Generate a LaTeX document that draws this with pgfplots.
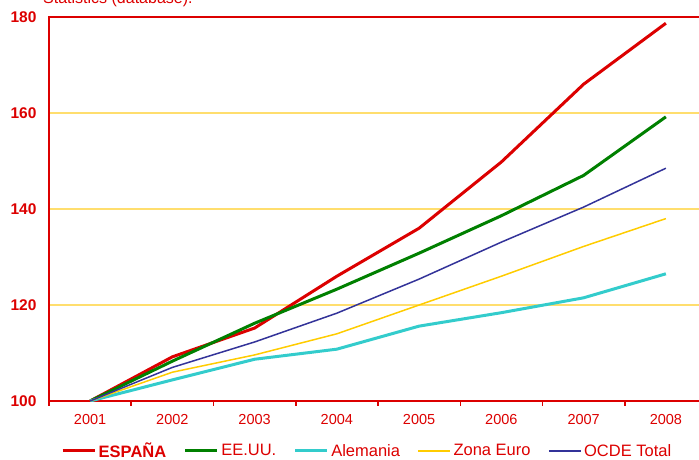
\documentclass[border=0pt]{standalone}
\usepackage{pgfplots}
\pgfplotsset{compat=1.18}
\usepackage{fontspec}
\setmainfont{Liberation Sans}
\definecolor{cred}{RGB}{220,0,0}
\definecolor{cgreen}{RGB}{0,128,0}
\definecolor{ccyan}{RGB}{51,204,204}
\definecolor{cyellow}{RGB}{255,204,0}
\definecolor{cnavy}{RGB}{51,51,153}
\definecolor{cgrid}{RGB}{255,222,110}
\begin{document}
\begin{tikzpicture}
\begin{axis}[
  at={(0pt,0pt)}, anchor=south west,
  scale only axis, width=658pt, height=384pt,
  xmin=2000.5, xmax=2008.5, ymin=100, ymax=180,
  xtick={2001,2002,2003,2004,2005,2006,2007,2008},
  xticklabels={2001,2002,2003,2004,2005,2006,2007,2008},
  minor xtick={2000.5,2001.5,2002.5,2003.5,2004.5,2005.5,2006.5,2007.5,2008.5},
  ytick={100,120,140,160,180},
  ymajorgrids, grid style={cgrid, line width=1.2pt},
  major tick length=0pt, minor tick length=4.5pt, tick align=outside,
  xtick pos=bottom, ytick pos=left,
  tick style={cred, line width=1.5pt},
  axis line style={cred, line width=2pt},
  xticklabel style={font=\fontsize{14.5}{16}\selectfont, text=cred, yshift=-10pt},
  yticklabel style={font=\fontsize{15.5}{17}\selectfont\bfseries, text=cred, xshift=-9pt},
  /pgf/number format/assume math mode=true,
  legend columns=5,
  legend style={at={(0.484,-0.130)}, anchor=center, draw=none, fill=none,
    font=\fontsize{16.5}{18}\selectfont, text=cred, inner sep=0pt,
    nodes={inner xsep=2.5pt},
    /tikz/every even column/.append style={column sep=15pt}},
  legend image code/.code={\draw[#1] (0pt,0pt) -- (32pt,0pt);},
]
\addplot[cred, line width=3pt, sharp plot] coordinates {
 (2001,100) (2002,109.2) (2003,115.2) (2004,126) (2005,136) (2006,149.8) (2007,166) (2008,178.7)};
\addlegendentry{\textbf{ESPAÑA}}
\addplot[cgreen, line width=3pt, sharp plot] coordinates {
 (2001,100) (2002,108.3) (2003,116.2) (2004,123.3) (2005,130.8) (2006,138.6) (2007,147.0) (2008,159.2)};
\addlegendentry{EE.UU.}
\addplot[ccyan, line width=3pt, sharp plot] coordinates {
 (2001,100) (2002,104.4) (2003,108.7) (2004,110.8) (2005,115.6) (2006,118.4) (2007,121.5) (2008,126.5)};
\addlegendentry{Alemania}
\addplot[cyellow, line width=1.5pt, sharp plot] coordinates {
 (2001,100) (2002,106) (2003,109.6) (2004,114) (2005,120) (2006,126) (2007,132.2) (2008,138)};
\addlegendentry{Zona Euro}
\addplot[cnavy, line width=1.5pt, sharp plot] coordinates {
 (2001,100) (2002,107) (2003,112.3) (2004,118.3) (2005,125.4) (2006,133.1) (2007,140.4) (2008,148.5)};
\addlegendentry{OCDE Total}
\end{axis}
\node[anchor=base west, text=cred, font=\fontsize{16}{18}\selectfont, inner sep=0pt] at (-6pt,398pt) {Statistics (database).};
\pgfresetboundingbox
\path (-49pt,-58pt) rectangle (650pt,401pt);
\end{tikzpicture}
\end{document}
